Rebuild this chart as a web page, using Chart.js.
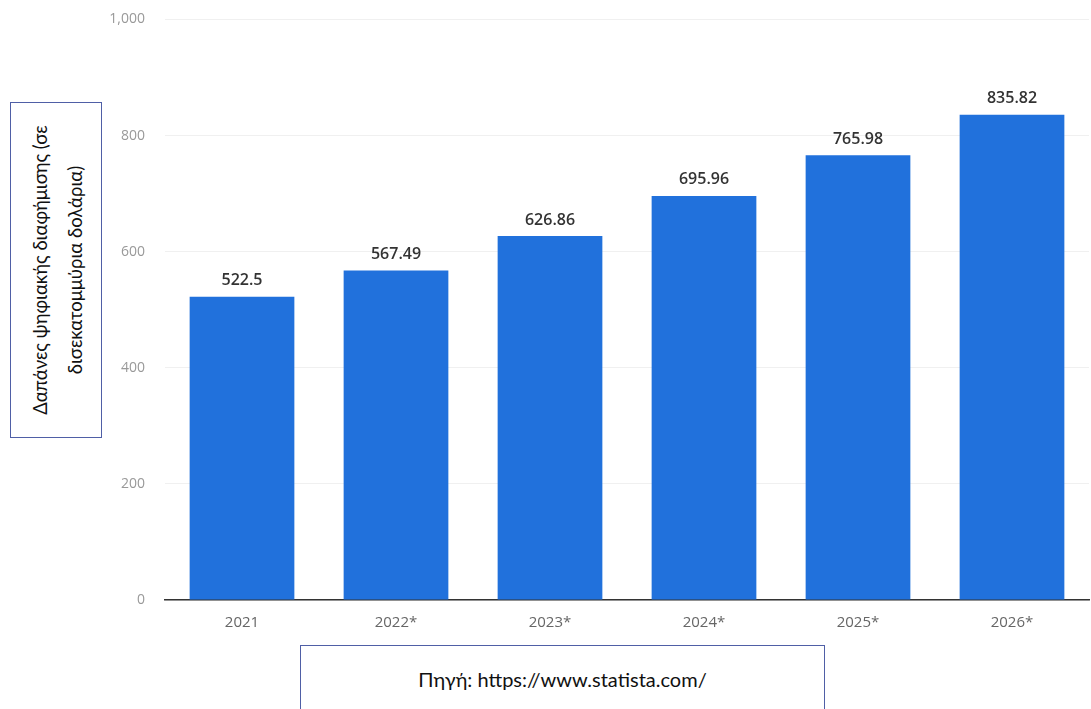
<!DOCTYPE html>
<html>
<head>
<meta charset="utf-8">
<script src="https://cdn.jsdelivr.net/npm/chart.js@4/dist/chart.umd.min.js"></script>
<style>
  html, body { margin: 0; padding: 0; background: #fff; }
  #wrap { position: relative; width: 1091px; height: 709px; overflow: hidden; }
  #chart { position: absolute; left: 0; top: -9px; }
  .ybox {
    position: absolute; left: 10px; top: 102px; width: 92px; height: 336px;
    border: 1px solid #4f5fa6; background: #fff; box-sizing: border-box;
  }
  .ybox span {
    position: absolute; left: 52%; top: 50%; width: 336px;
    transform: translate(-50%, -50%) rotate(-90deg);
    text-align: center; font: 18.5px Lato, "Open Sans", sans-serif; line-height: 35px; color: #111;
  }
  .src {
    position: absolute; left: 300px; top: 645px; width: 525px; height: 80px;
    border: 1px solid #4f5fa6; background: #fff; box-sizing: border-box;
    font: 20px Lato, "Open Sans", sans-serif; color: #111; text-align: center; padding-top: 21px;
  }
</style>
</head>
<body>
<div id="wrap">
  <canvas id="chart" width="1091" height="718"></canvas>
  <div class="ybox"><span>Δαπάνες ψηφιακής διαφήμισης (σε<br>δισεκατομμύρια δολάρια)</span></div>
  <div class="src">Πηγή: https://www.statista.com/</div>
</div>
<script>
const years = ['2021', '2022*', '2023*', '2024*', '2025*', '2026*'];
const spending = [522.5, 567.49, 626.86, 695.96, 765.98, 835.82];
const valueLabels = ['522.5', '567.49', '626.86', '695.96', '765.98', '835.82'];

// labels above each bar
const barLabels = {
  id: 'barLabels',
  afterDatasetsDraw(chart) {
    const c = chart.ctx;
    const meta = chart.getDatasetMeta(0);
    c.save();
    c.font = '600 16px "Open Sans", sans-serif';
    c.fillStyle = '#333';
    c.textAlign = 'center';
    c.textBaseline = 'bottom';
    meta.data.forEach((bar, i) => {
      c.fillText(valueLabels[i], bar.x, bar.y - 8);
    });
    c.restore();
  }
};

const ctx = document.getElementById('chart').getContext('2d');
new Chart(ctx, {
  type: 'bar',
  data: {
    labels: years,
    datasets: [{
      data: spending,
      backgroundColor: '#2171dc',
      categoryPercentage: 1,
      barPercentage: 0.68
    }]
  },
  options: {
    responsive: false,
    animation: false,
    layout: { padding: { top: 9, right: 2, left: 0, bottom: 0 } },
    plugins: {
      legend: { display: false },
      tooltip: { enabled: false }
    },
    scales: {
      x: {
        grid: { display: false, drawTicks: false },
        border: { display: true, color: '#333', width: 1.5 },
        ticks: { color: '#666', font: { size: 15, family: '"Open Sans", sans-serif' }, padding: 14 },
        afterFit(scale) { scale.height = 109; }
      },
      y: {
        min: 0, max: 1000,
        ticks: { stepSize: 200, color: '#999', font: { size: 14, family: '"Open Sans", sans-serif' }, padding: 20 },
        grid: { color: 'rgba(0,0,0,0.06)', drawTicks: false },
        border: { display: false },
        afterFit(scale) { scale.width = 165; }
      }
    }
  },
  plugins: [barLabels]
});
</script>
</body>
</html>
